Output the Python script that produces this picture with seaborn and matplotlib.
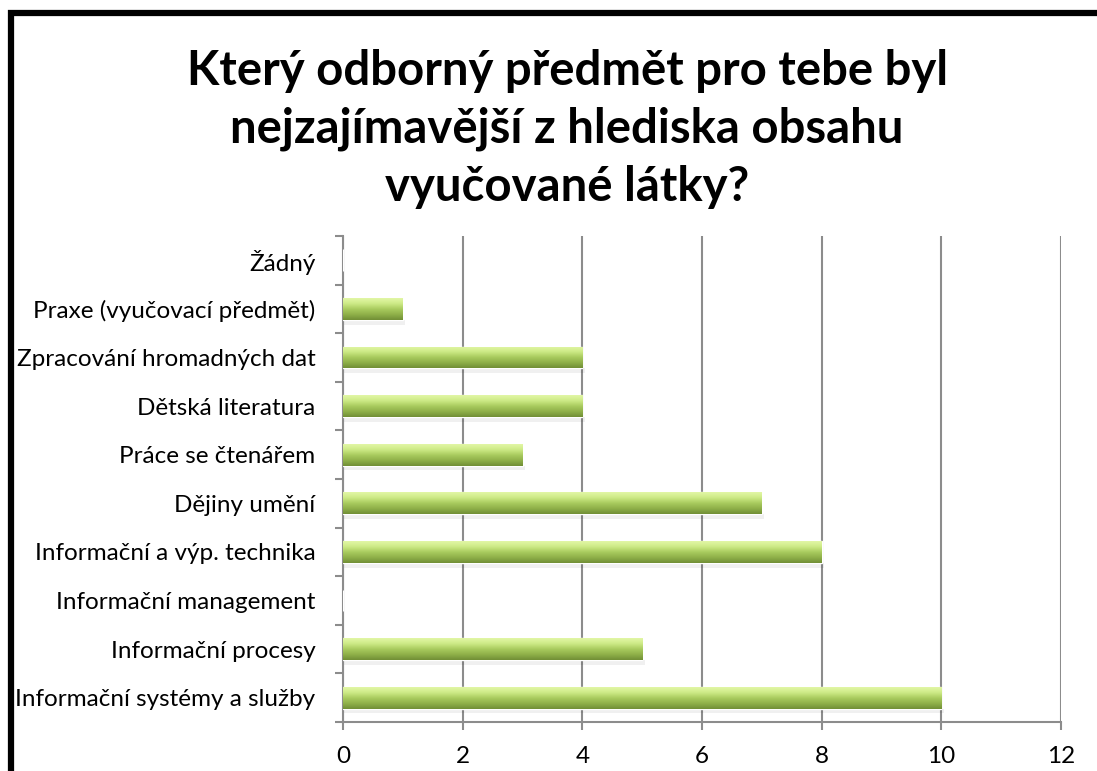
import numpy as np
import matplotlib.pyplot as plt
import matplotlib.colors as mcolors
from matplotlib.lines import Line2D
import seaborn as sns
import pandas as pd

sns.set_theme(style="white")
plt.rcParams['font.family'] = ['Lato', 'DejaVu Sans']

# data (top to bottom as shown)
subjects = [
    "Žádný",
    "Praxe (vyučovací předmět)",
    "Zpracování hromadných dat",
    "Dětská literatura",
    "Práce se čtenářem",
    "Dějiny umění",
    "Informační a výp. technika",
    "Informační management",
    "Informační procesy",
    "Informační systémy a služby",
]
counts = [0, 1, 4, 4, 3, 7, 8, 0, 5, 10]
x_ticks = [0, 2, 4, 6, 8, 10, 12]

title = "Který odborný předmět pro tebe byl\nnejzajímavější z hlediska obsahu\nvyučované látky?"

df = pd.DataFrame({"subject": subjects, "count": counts})

fig = plt.figure(figsize=(10.97, 7.71), dpi=100)
ax = fig.add_axes([0.3127, 0.0636, 0.6545, 0.6303])

sns.barplot(data=df, x="count", y="subject", orient="h", color="#9bbb59",
            width=0.45, ax=ax, zorder=3)

# cylinder-ish gradient on each bar
grad_cmap = mcolors.LinearSegmentedColormap.from_list(
    "bar", ["#e2f7a6", "#cdea86", "#a9cb5e", "#8fb049", "#718f36"])
grad = np.linspace(0, 1, 64).reshape(-1, 1)
for p in list(ax.patches):
    w = p.get_width()
    if w <= 0:
        continue
    x0, y0, h = p.get_x(), p.get_y(), p.get_height()
    # soft shadow under the bar
    ax.add_patch(plt.Rectangle((x0, y0 + h), w + 0.04, 0.1, color="#000000",
                               alpha=0.06, lw=0, zorder=2))
    # y axis inverted: y0 is top edge visually -> gradient light at top
    im = ax.imshow(grad, cmap=grad_cmap, aspect="auto",
                   extent=(x0, x0 + w, y0 + h, y0), zorder=4,
                   interpolation="bicubic")
    im.set_clip_path(p)

ax.set_xlim(0, 12)
ax.set_ylim(len(subjects) - 0.5, -0.5)
ax.set_xticks(x_ticks)
ax.set_xticklabels([str(t) for t in x_ticks])
ax.set_xlabel("")
ax.set_ylabel("")

ax.grid(axis="x", color="#8c8c8c", lw=1.5, zorder=0)
ax.set_axisbelow(True)
for s in ["top", "right"]:
    ax.spines[s].set_visible(False)
for s in ["left", "bottom"]:
    ax.spines[s].set_color("#8c8c8c")
    ax.spines[s].set_linewidth(1.5)

# category boundary ticks on y, gridline ticks on x
ax.set_yticks(np.arange(-0.5, len(subjects), 1.0), minor=True)
ax.tick_params(axis="y", which="major", length=0, pad=20, labelsize=17.5, labelcolor="black")
ax.tick_params(axis="y", which="minor", length=6, width=1.5, color="#8c8c8c", left=True)
ax.tick_params(axis="x", which="major", length=6, width=1.5, color="#8c8c8c",
               bottom=True, pad=11, labelsize=17.5, labelcolor="black")

fig.text(0.517, 0.833, title, ha="center", va="center", fontsize=34,
         fontweight="bold", linespacing=1.38, color="black")

# chart area border (top and left visible)
fig.add_artist(Line2D([0.0096, 0.0096, 1.0], [0.0, 0.9825, 0.9825],
                      transform=fig.transFigure, color="black", lw=4.5,
                      solid_joinstyle="miter"))

fig.savefig("out.png", dpi=100, facecolor="white")
